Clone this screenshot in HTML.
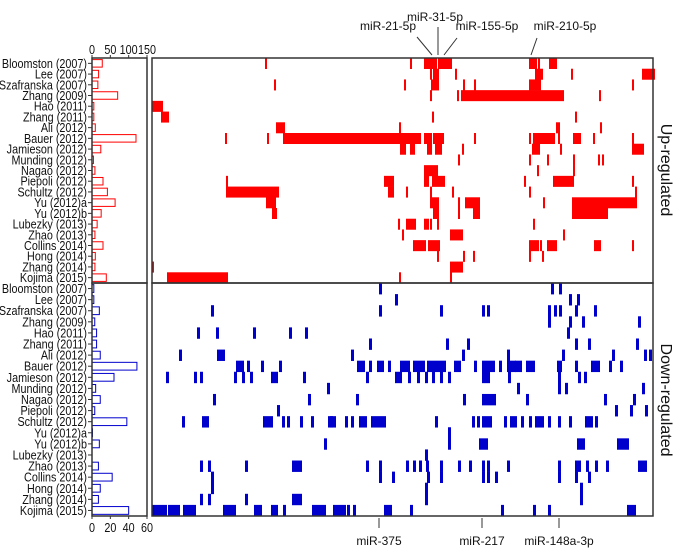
<!DOCTYPE html>
<html><head><meta charset="utf-8"><style>
body{margin:0;background:#fff}
svg{display:block;font-family:"Liberation Sans",sans-serif}
</style></head><body>
<svg id="c" width="675" height="550"></svg>
<script>
const studies=["Bloomston (2007)","Lee (2007)","Szafranska (2007)","Zhang (2009)","Hao (2011)","Zhang (2011)","Ali (2012)","Bauer (2012)","Jamieson (2012)","Munding (2012)","Nagao (2012)","Piepoli (2012)","Schultz (2012)","Yu (2012)a","Yu (2012)b","Lubezky (2013)","Zhao (2013)","Collins 2014)","Hong (2014)","Zhang (2014)","Kojima (2015)"];
const upCounts=[28,18,16,70,5,5,9,120,24,4,8,30,42,63,25,14,8,30,9,8,39];
const downCounts=[2,2,8,3,5,5,9,49,24,4,9,3,38,0.5,8,0,7,22,9,7,40];
const upTicks=[0,50,100,150];
const downTicks=[0,20,40,60];
// heatmap segments: [row, startCol, endCol] (column index 0..500)
const upSegs=[
[0,113,113],[0,258,258],[0,272,280],[0,281,281],[0,283,283],[0,286,298],[0,377,381],[0,383,383],[0,386,386],[0,397,403],
[1,278,278],[1,281,285],[1,303,303],[1,383,389],[1,419,419],[1,490,501],
[2,122,122],[2,252,252],[2,279,285],[2,311,311],[2,322,322],[2,377,387],[2,480,480],
[3,278,278],[3,305,305],[3,309,410],[3,447,447],
[4,0,9],[5,9,15],[5,280,280],[5,423,423],
[6,124,131],[6,247,247],[6,404,406],[6,448,448],
[7,73,73],[7,115,115],[7,131,267],[7,272,278],[7,281,290],[7,322,322],[7,377,377],[7,381,401],[7,406,406],[7,421,427],[7,441,441],[7,480,480],
[8,248,252],[8,258,261],[8,275,278],[8,283,288],[8,310,310],[8,380,386],[8,408,408],[8,480,490],
[9,306,306],[9,377,377],[9,395,395],[9,421,421],[9,446,446],[9,450,450],
[10,272,284],[10,385,385],[10,421,421],
[11,74,74],[11,232,240],[11,272,275],[11,280,291],[11,372,372],[11,401,420],[11,480,480],
[12,74,125],[12,236,240],[12,254,254],[12,278,278],[12,300,300],[12,377,377],[12,483,483],
[13,114,122],[13,278,285],[13,306,306],[13,313,326],[13,391,391],[13,420,483],
[14,120,123],[14,281,285],[14,306,306],[14,321,326],[14,420,454],
[15,246,246],[15,254,262],[15,272,275],[15,278,278],[15,285,285],[15,381,381],
[16,250,250],[16,298,309],[16,411,411],
[17,261,272],[17,276,286],[17,377,385],[17,388,388],[17,395,403],[17,442,447],[17,480,480],
[18,285,285],[18,311,311],[18,321,321],[18,377,377],[18,390,390],
[19,0,0],[19,298,309],
[20,15,74],[20,247,247],[20,298,298]];
const downSegs=[
[0,227,227],[0,399,399],[0,407,407],
[1,243,243],[1,417,417],[1,425,425],
[2,59,59],[2,227,227],[2,288,288],[2,330,330],[2,335,335],[2,396,396],[2,402,402],[2,407,407],[2,423,423],[2,442,442],
[3,396,396],[3,417,417],[3,430,430],[3,486,486],
[4,45,45],[4,64,64],[4,101,101],[4,137,137],[4,153,153],[4,415,415],
[5,217,217],[5,294,294],[5,315,315],[5,423,423],[5,436,436],[5,484,484],
[6,27,27],[6,65,70],[6,199,199],[6,310,310],[6,355,355],[6,410,410],[6,460,460],[6,492,492],[6,497,497],
[7,84,89],[7,95,95],[7,109,109],[7,127,127],[7,205,210],[7,217,217],[7,225,229],[7,236,236],[7,248,255],[7,261,270],[7,275,291],[7,302,306],[7,322,322],[7,330,340],[7,347,347],[7,355,361],[7,363,367],[7,374,380],[7,405,407],[7,423,423],[7,439,445],[7,457,457],[7,468,468],
[8,14,14],[8,42,42],[8,48,48],[8,82,82],[8,90,90],[8,98,98],[8,119,123],[8,151,151],[8,214,214],[8,243,247],[8,256,256],[8,265,265],[8,273,273],[8,280,280],[8,288,288],[8,296,296],[8,330,335],[8,356,356],[8,406,406],[8,426,426],[8,432,432],
[9,175,175],[9,365,365],[9,406,406],[9,413,413],[9,490,490],
[10,61,61],[10,156,156],[10,204,204],[10,311,311],[10,330,338],[10,341,341],[10,374,374],[10,452,452],[10,481,481],
[11,125,125],[11,463,463],[11,478,478],[11,493,493],
[12,30,30],[12,50,54],[12,111,118],[12,130,130],[12,135,135],[12,148,148],[12,159,159],[12,176,181],[12,178,178],[12,193,193],[12,199,199],[12,207,212],[12,219,224],[12,227,231],[12,283,283],[12,320,320],[12,325,325],[12,330,337],[12,352,352],[12,358,362],[12,369,369],[12,377,377],[12,383,389],[12,396,396],[12,406,406],[12,417,417],[12,433,438],[12,443,443],
[13,296,296],[14,172,172],[14,296,296],[14,327,333],[14,425,430],[14,465,474],
[15,273,273],[16,48,48],[16,56,56],[16,93,93],[16,140,147],[16,214,214],[16,227,227],[16,254,254],[16,261,261],[16,267,267],[16,274,274],[16,288,288],[16,306,306],[16,317,317],[16,330,330],[16,335,335],[16,355,355],[16,406,406],[16,423,426],[16,434,434],[16,443,443],[16,454,454],[16,486,492],
[17,59,59],[17,227,227],[17,240,240],[17,275,275],[17,288,288],[17,330,330],[17,335,335],[17,343,343],[17,406,406],[17,423,423],[17,436,436],
[18,59,59],[18,273,273],[18,428,428],
[19,48,48],[19,56,56],[19,93,93],[19,140,147],[19,273,273],[19,428,428],
[20,0,12],[20,16,25],[20,31,41],[20,71,81],[20,102,107],[20,119,123],[20,131,131],[20,160,171],[20,181,191],[20,195,195],[20,201,201],[20,232,237],[20,258,258],[20,349,349],[20,381,381],[20,396,396],[20,475,481]];
const topLabels=[["miR-31-5p",435,21,438,27,438,55],["miR-21-5p",388,30,417,37,432,55],["miR-155-5p",487,30,457,38,444,55],["miR-210-5p",565,30,537,38,531,55]];
const botLabels=[["miR-375",379],["miR-217",482],["miR-148a-3p",559]];

const svg=document.getElementById('c');
const NS="http://www.w3.org/2000/svg";
function mk(t,a,p){const e=document.createElementNS(NS,t);for(const k in a)e.setAttribute(k,a[k]);(p||svg).appendChild(e);return e;}
const SX=0.83;
function ntext(x,y,anchor,size,str,p){
  const t=mk('text',{x:0,y:0,'text-anchor':anchor,'font-size':size,fill:'#111',transform:`translate(${x},${y}) scale(${SX},1)`},p);
  t.textContent=str;return t;
}
const HX0=152,HX1=653,NCOL=501;
const colX=c=>HX0+c*(HX1-HX0)/NCOL;
const panels=[{y0:58,y1:283,counts:upCounts,ticks:upTicks,max:150,segs:upSegs,col:"#f00",thin:2,name:"up"},
{y0:283,y1:516,counts:downCounts,ticks:downTicks,max:60,segs:downSegs,col:"#00c",thin:3,name:"down"}];
const BX0=92,BX1=147;
panels.forEach((P,pi)=>{
  const rh=(P.y1-P.y0)/studies.length;
  const rowY=i=>P.y0+i*rh;
  const bx=v=>BX0+v/P.max*(BX1-BX0);
  const g=mk('g',{});
  
  
  P.segs.forEach(s=>{
    const x=colX(s[1]);const w=Math.max(P.thin,colX(s[2])-colX(s[1])+P.thin);
    const r=mk('rect',{x:x,y:rowY(s[0]),width:w,height:rh+0.3,fill:P.col},g);
    
    
  });
  const fr=mk('rect',{x:HX0,y:P.y0,width:HX1-HX0,height:P.y1-P.y0,fill:'none',stroke:'#333','stroke-width':1.5},g);
  
  
  P.counts.forEach((v,i)=>{
    const y=rowY(i)+rh*0.15;
    if(v>0){const b=mk('rect',{x:BX0,y:y,width:Math.max(0.5,bx(v)-BX0),height:rh*0.7,fill:'#fff',stroke:P.col,'stroke-width':1},g);
    
    }
    const t=ntext(87,rowY(i)+rh/2+4.5,'end',13,studies[i],g);
    
    
    mk('line',{x1:88,x2:BX0,y1:rowY(i)+rh/2,y2:rowY(i)+rh/2,stroke:'#333'},g);
  });
  const bf=mk('rect',{x:BX0,y:P.y0,width:BX1-BX0,height:P.y1-P.y0,fill:'none',stroke:'#333','stroke-width':1.5},g);
  
  
  P.ticks.forEach(tv=>{
    const x=bx(tv);
    const ty=pi==0?P.y0:P.y1;
    mk('line',{x1:x,x2:x,y1:ty,y2:pi==0?ty-3:ty+3,stroke:'#333'},g);
    const t=ntext(x,pi==0?ty-4:ty+16,'middle',13,String(tv),g);
    
    
  });
});
topLabels.forEach(l=>{
  const t=mk('text',{x:l[1],y:l[2],'text-anchor':'middle','font-size':12,fill:'#111'});t.textContent=l[0];
  
  
  mk('line',{x1:l[3],y1:l[4],x2:l[5],y2:l[6],stroke:'#333'});
});
botLabels.forEach(l=>{
  mk('line',{x1:l[1],x2:l[1],y1:518,y2:528,stroke:'#333'});
  const t=mk('text',{x:l[1],y:545,'text-anchor':'middle','font-size':12,fill:'#111'});t.textContent=l[0];
  
  
});
[["Up-regulated",170],["Down-regulated",400]].forEach(s=>{
  const t=mk('text',{x:0,y:0,'text-anchor':'middle','font-size':16,fill:'#111',transform:`translate(661,${s[1]}) rotate(90)`});t.textContent=s[0];
  
  
});
</script>
</body></html>
